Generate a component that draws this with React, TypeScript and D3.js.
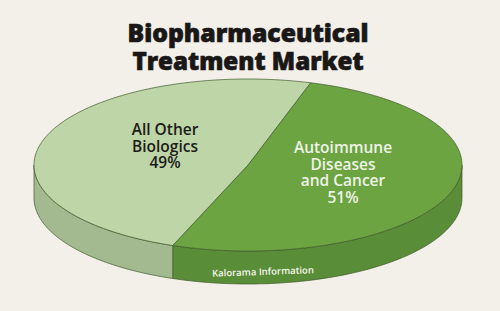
import React from "react";
import * as d3 from "d3";

const categories = ["Autoimmune Diseases and Cancer", "All Other Biologics"];
const values = [51, 49];
const labelLines = [
  ["Autoimmune", "Diseases", "and Cancer", "51%"],
  ["All Other", "Biologics", "49%"],
];
const titleLines = ["Biopharmaceutical", "Treatment Market"];
const source = "Kalorama Information";

const W = 500;
const H = 311;
const cx = 248;
const cy = 165;
const rx = 214;
const ry = 86;
const depth = 33;
const topColors = ["#6ca442", "#bed5a7"];
const sideColors = ["#5a8d37", "#a3b98f"];
const textColors = ["#eef3e6", "#1c1c1a"];
const labelPos = [
  { x: 343, y: 153 },
  { x: 165, y: 135 },
];

const deg = Math.PI / 180;
const px = (a: number) => cx + rx * Math.sin(a);
const py = (a: number, dy = 0) => cy - ry * Math.cos(a) + dy;

function arcPoints(a0: number, a1: number, dy = 0) {
  const n = Math.max(2, Math.ceil(Math.abs(a1 - a0) / (1 * deg)));
  const pts: [number, number][] = [];
  for (let i = 0; i <= n; i++) {
    const a = a0 + ((a1 - a0) * i) / n;
    pts.push([px(a), py(a, dy)]);
  }
  return pts;
}

export default function App() {
  const pie = d3
    .pie<number>()
    .sort(null)
    .startAngle(17 * deg)
    .endAngle(17 * deg + 2 * Math.PI);
  const arcs = pie(values);
  const line = d3.line();

  const tops = arcs.map((d) => {
    const pts = [[cx, cy] as [number, number], ...arcPoints(d.startAngle, d.endAngle)];
    return line(pts) + "Z";
  });

  const sides: { path: string; i: number }[] = [];
  arcs.forEach((d, i) => {
    const lo = Math.max(d.startAngle, 90 * deg);
    const hi = Math.min(d.endAngle, 270 * deg);
    const lo2 = Math.max(d.startAngle, 450 * deg);
    const hi2 = Math.min(d.endAngle, 630 * deg);
    const ranges: [number, number][] = [];
    if (hi > lo) ranges.push([lo, hi]);
    if (hi2 > lo2) ranges.push([lo2, hi2]);
    ranges.forEach(([a0, a1]) => {
      const pts = [...arcPoints(a0, a1), ...arcPoints(a1, a0, depth)];
      sides.push({ path: line(pts) + "Z", i });
    });
  });

  return (
    <svg
      width={W}
      height={H}
      style={{ position: "fixed", left: 0, top: 0, background: "#f3efe9" }}
    >
      <rect width={W} height={H} fill="#f3efe9" />
      {titleLines.map((t, k) => (
        <text
          key={t}
          x={248}
          y={42 + k * 28}
          textAnchor="middle"
          fontFamily="'Open Sans', sans-serif"
          fontWeight={800}
          fontSize={25}
          fill="#1a1717"
          stroke="#1a1717"
          strokeWidth={0.7}
          textLength={k === 0 ? 241 : 231}
          lengthAdjust="spacingAndGlyphs"
        >
          {t}
        </text>
      ))}
      {sides.map((s, k) => (
        <path key={k} d={s.path} fill={sideColors[s.i]} stroke="#3f5a2c" strokeWidth={0.7} strokeLinejoin="round" />
      ))}
      {tops.map((p, i) => (
        <path key={categories[i]} d={p} fill={topColors[i]} stroke="#3f5a2c" strokeWidth={0.7} strokeLinejoin="round" />
      ))}
      {labelLines.map((lines, i) => (
        <text
          key={i}
          textAnchor="middle"
          fontFamily="'Open Sans', sans-serif"
          fontWeight={600}
          fontSize={15.5}
          fill={textColors[i]}
        >
          {lines.map((l, k) => (
            <tspan key={k} x={labelPos[i].x} y={labelPos[i].y + k * 16.5}>
              {l}
            </tspan>
          ))}
        </text>
      ))}
      <text
        x={263}
        y={275}
        textAnchor="middle"
        fontFamily="'Open Sans', sans-serif"
        fontWeight={600}
        fontSize={9.5}
        fill="#f4f6ee"
        transform="rotate(-2 263 272)"
      >
        {source}
      </text>
    </svg>
  );
}
